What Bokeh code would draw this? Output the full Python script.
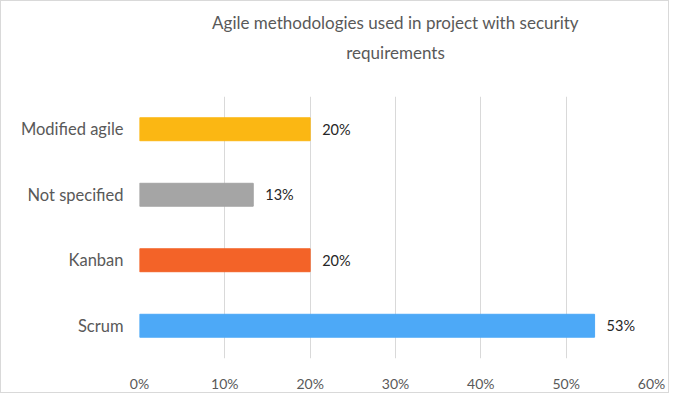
from bokeh.plotting import figure
from bokeh.models import Range1d, FactorRange, FixedTicker, NumeralTickFormatter, Title, ColumnDataSource
from bokeh.core.properties import value
from bokeh.embed import file_html
from bokeh.resources import INLINE

categories = ["Scrum", "Kanban", "Not specified", "Modified agile"]
shares = [0.5333, 0.20, 0.1333, 0.20]
bar_colors = ["#4DA9F7", "#F36328", "#A5A5A5", "#FBB713"]
tick_values = [0, 0.1, 0.2, 0.3, 0.4, 0.5, 0.6]
title_lines = ["Agile methodologies used in project with security", "requirements"]

FONT = "Lato"

src = ColumnDataSource(dict(
    cat=categories, val=shares, color=bar_colors,
    label=[f"{round(v * 100)}%" for v in shares],
))

p = figure(width=669, height=393, output_backend="svg", toolbar_location=None,
           x_range=Range1d(0, 0.6), y_range=FactorRange(*categories, range_padding=0),
           title=None, min_border_left=138, min_border_right=19,
           min_border_top=95, min_border_bottom=33)
p.styles = {"border": "1px solid #D9D9D9"}

p.hbar(y="cat", right="val", left=0, height=0.35, color="color", source=src)
p.text(x="val", y="cat", text="label", source=src, x_offset=12,
       text_baseline="middle", text_align="left", text_font=value(FONT),
       text_font_size="14.5px", text_color="#262626")

spacer = Title(text=" ", align="center", text_font=FONT, text_font_size="20px",
               text_color="#FFFFFF", standoff=0)
t2 = Title(text=title_lines[1], align="center", text_font=FONT, text_font_size="17px",
           text_font_style="normal", text_color="#595959", standoff=15)
t1 = Title(text=title_lines[0], align="center", text_font=FONT, text_font_size="17px",
           text_font_style="normal", text_color="#595959", standoff=0)
p.add_layout(spacer, "above")
p.add_layout(t2, "above")
p.add_layout(t1, "above")

p.xaxis.ticker = FixedTicker(ticks=tick_values)
p.xaxis.formatter = NumeralTickFormatter(format="0%")
for ax in (p.xaxis, p.yaxis):
    ax.axis_line_color = None
    ax.major_tick_line_color = None
    ax.minor_tick_line_color = None
    ax.major_tick_out = 0
    ax.major_tick_in = 0
    ax.major_label_text_font = FONT
    ax.major_label_text_color = "#595959"
p.xaxis.major_label_text_font_size = "14px"
p.yaxis.major_label_text_font_size = "16.5px"
p.xaxis.major_label_standoff = 16
p.yaxis.major_label_standoff = 16

p.xgrid.grid_line_color = "#D9D9D9"
p.ygrid.grid_line_color = None
p.outline_line_color = None

open("out.html", "w").write(file_html(p, INLINE))
